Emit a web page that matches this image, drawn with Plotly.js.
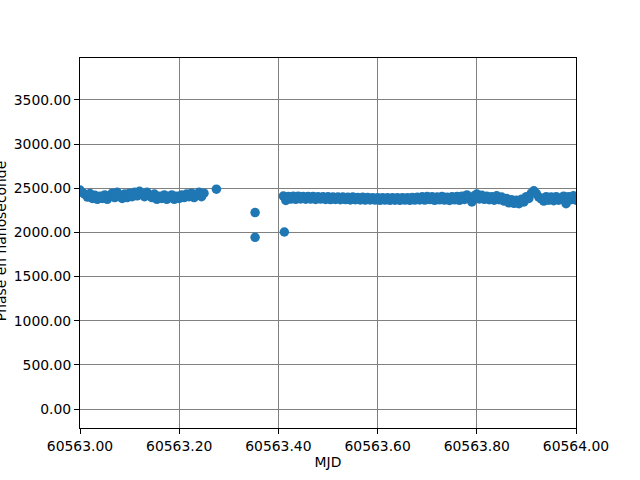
<!DOCTYPE html>
<html>
<head>
<meta charset="utf-8">
<script src="https://cdn.plot.ly/plotly-3.0.1.min.js"></script>
<style>html,body{margin:0;padding:0;background:#fff;}#chart{width:640px;height:480px;}</style>
</head>
<body>
<div id="chart"></div>
<script>
const MJD0 = 60563;
// day fraction since MJD 60563
const dayFraction = [
0.000,0.005,0.010,0.015,0.020,0.025,0.030,0.035,0.040,0.045,
0.050,0.055,0.060,0.065,0.070,0.075,0.080,0.085,0.090,0.095,
0.100,0.105,0.110,0.115,0.120,0.125,0.130,0.135,0.140,0.145,
0.150,0.155,0.160,0.165,0.170,0.175,0.180,0.185,0.190,0.195,
0.200,0.205,0.210,0.215,0.220,0.225,0.230,0.235,0.240,0.245,
0.250,
0.275,0.353,0.353,0.412,
0.410,0.415,0.420,0.425,0.430,0.435,0.440,0.445,0.450,0.455,
0.460,0.465,0.470,0.475,0.480,0.485,0.490,0.495,0.500,0.505,
0.510,0.515,0.520,0.525,0.530,0.535,0.540,0.545,0.550,0.555,
0.560,0.565,0.570,0.575,0.580,0.585,0.590,0.595,0.600,0.605,
0.610,0.615,0.620,0.625,0.630,0.635,0.640,0.645,0.650,0.655,
0.660,0.665,0.670,0.675,0.680,0.685,0.690,0.695,0.700,0.705,
0.710,0.715,0.720,0.725,0.730,0.735,0.740,0.745,0.750,0.755,
0.760,0.765,0.770,0.775,0.780,0.785,0.790,0.795,0.800,0.805,
0.810,0.815,0.820,0.825,0.830,0.835,0.840,0.845,0.850,0.855,
0.860,0.865,0.870,0.875,0.880,0.885,0.890,0.895,0.900,0.905,
0.910,0.915,0.920,0.925,0.930,0.935,0.940,0.945,0.950,0.955,
0.960,0.965,0.970,0.975,0.980,0.985,0.990,0.995,1.000
];
// phase in nanoseconds
const phaseNs = [
2480,2450,2430,2400,2440,2385,2420,2375,2410,2385,
2425,2375,2410,2445,2395,2455,2410,2385,2435,2395,
2445,2405,2455,2415,2465,2430,2405,2455,2415,2395,
2435,2375,2410,2385,2425,2375,2400,2425,2375,2410,
2385,2425,2395,2435,2405,2445,2395,2420,2455,2405,
2445,
2490,2225,1945,2005,
2412,2362,2408,2378,2410,2375,2410,2380,2408,2376,
2406,2378,2408,2374,2405,2378,2404,2374,2403,2372,
2402,2374,2400,2370,2401,2372,2398,2368,2400,2370,
2396,2368,2398,2366,2396,2368,2394,2366,2393,2364,
2394,2366,2392,2364,2394,2365,2392,2364,2393,2366,
2394,2364,2396,2366,2398,2368,2403,2366,2406,2372,
2403,2364,2400,2369,2408,2366,2398,2362,2403,2369,
2406,2364,2410,2374,2425,2380,2345,2415,2435,2380,
2420,2375,2410,2370,2405,2365,2415,2370,2400,2355,
2385,2335,2370,2330,2365,2325,2375,2345,2405,2385,
2445,2472,2440,2400,2380,2355,2405,2365,2400,2360,
2405,2365,2385,2410,2325,2405,2370,2415,2365
];
const xTicks = [60563.0,60563.2,60563.4,60563.6,60563.8,60564.0];
const yTicks = [0,500,1000,1500,2000,2500,3000,3500];
const xTitle = 'MJD';
const yTitle = 'Phase en nanoseconde';

const mjd = dayFraction.map(d => MJD0 + d);
const font = {family:'DejaVu Sans', size:13.9, color:'#000'};
const axisCommon = {
  showline:true, linecolor:'#000', linewidth:1, mirror:true,
  showgrid:true, gridcolor:'#808080', gridwidth:1,
  ticks:'outside', ticklen:5, tickwidth:1, tickcolor:'#000',
  zeroline:false, tickfont:font, tickformat:'.2f'
};
Plotly.newPlot('chart', [{
  x: mjd, y: phaseNs, type:'scatter', mode:'markers',
  marker:{color:'#1f77b4', size:9.5, line:{width:0}},
  hoverinfo:'skip'
}], {
  width:640, height:480,
  margin:{l:80, r:64, t:58, b:52},
  paper_bgcolor:'#fff', plot_bgcolor:'#fff',
  showlegend:false,
  xaxis:Object.assign({}, axisCommon, {range:[60563.0,60564.0], tickvals:xTicks,
    title:{text:xTitle, font:font, standoff:4}}),
  yaxis:Object.assign({}, axisCommon, {range:[-214,3975], tickvals:yTicks}),
  annotations:[{text:yTitle, textangle:-90, xref:'paper', yref:'paper',
    x:(1-80)/496, y:0.505, xanchor:'center', yanchor:'middle', showarrow:false, font:font}]
}, {staticPlot:true});
</script>
</body>
</html>
